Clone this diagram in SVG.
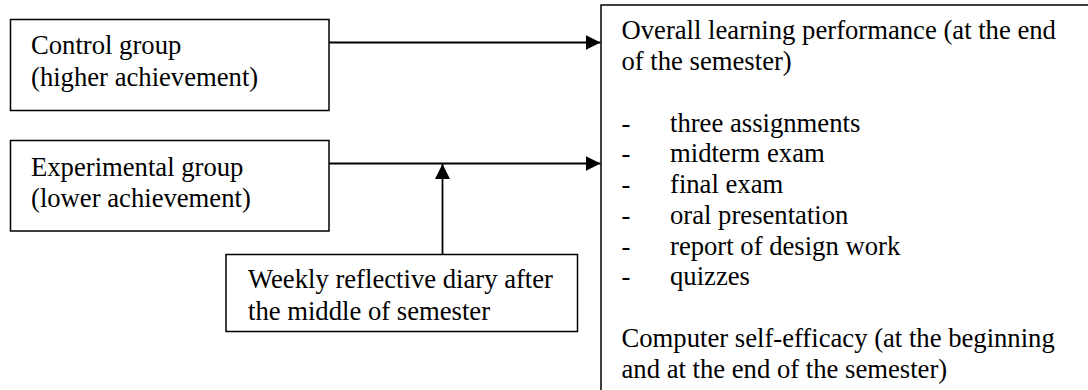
<svg xmlns="http://www.w3.org/2000/svg" width="1088" height="390" viewBox="0 0 1088 390">
  <style>
    .box { fill: #ffffff; stroke: #000000; stroke-width: 1.5; }
    .t { font-family: 'Liberation Serif', 'Times New Roman', Times, 'DejaVu Serif', serif; font-size: 26.67px; fill: #000000; }
    .conn { stroke: #000000; stroke-width: 1.8; fill: none; }
  </style>
  <defs>
    <marker id="arrow" markerUnits="userSpaceOnUse" markerWidth="15" markerHeight="15" refX="15" refY="7.5" orient="auto">
      <path d="M0,0 L15,7.5 L0,15 Z" fill="#000000"/>
    </marker>
  </defs>
  <rect width="1088" height="390" fill="#ffffff"/>

  <g id="outcomes" font-family="'Liberation Serif', 'Times New Roman', serif">
    <rect class="box" x="601" y="5" width="600" height="500"/>
    <text class="t" x="621.5" y="39">Overall learning performance (at the end</text>
    <text class="t" x="621.5" y="70">of the semester)</text>
    <text class="t" x="621.5" y="131.5">-</text><text class="t" x="670" y="131.5">three assignments</text>
    <text class="t" x="621.5" y="162.3">-</text><text class="t" x="670" y="162.3">midterm exam</text>
    <text class="t" x="621.5" y="193">-</text><text class="t" x="670" y="193">final exam</text>
    <text class="t" x="621.5" y="223.8">-</text><text class="t" x="670" y="223.8">oral presentation</text>
    <text class="t" x="621.5" y="254.5">-</text><text class="t" x="670" y="254.5">report of design work</text>
    <text class="t" x="621.5" y="285.3">-</text><text class="t" x="670" y="285.3">quizzes</text>
    <text class="t" x="621.5" y="347">Computer self-efficacy (at the beginning</text>
    <text class="t" x="621.5" y="378">and at the end of the semester)</text>
  </g>

  <g id="control" font-family="'Liberation Serif', 'Times New Roman', serif">
    <rect class="box" x="10.5" y="19.5" width="318.5" height="91"/>
    <text class="t" x="31" y="54">Control group</text>
    <text class="t" x="31" y="85.5">(higher achievement)</text>
  </g>

  <g id="experimental" font-family="'Liberation Serif', 'Times New Roman', serif">
    <rect class="box" x="10.5" y="140.5" width="318.5" height="90.5"/>
    <text class="t" x="31" y="176">Experimental group</text>
    <text class="t" x="31" y="207">(lower achievement)</text>
  </g>

  <g id="diary" font-family="'Liberation Serif', 'Times New Roman', serif">
    <rect class="box" x="226" y="254.5" width="351.5" height="77"/>
    <text class="t" x="248" y="288">Weekly reflective diary after</text>
    <text class="t" x="248" y="320">the middle of semester</text>
  </g>

  <g id="connectors">
    <line class="conn" x1="329" y1="42.5" x2="600.5" y2="42.5" marker-end="url(#arrow)"/>
    <line class="conn" x1="329" y1="163.5" x2="600.5" y2="163.5" marker-end="url(#arrow)"/>
    <line class="conn" x1="442.5" y1="254.5" x2="442.5" y2="164" marker-end="url(#arrow)"/>
  </g>
</svg>
